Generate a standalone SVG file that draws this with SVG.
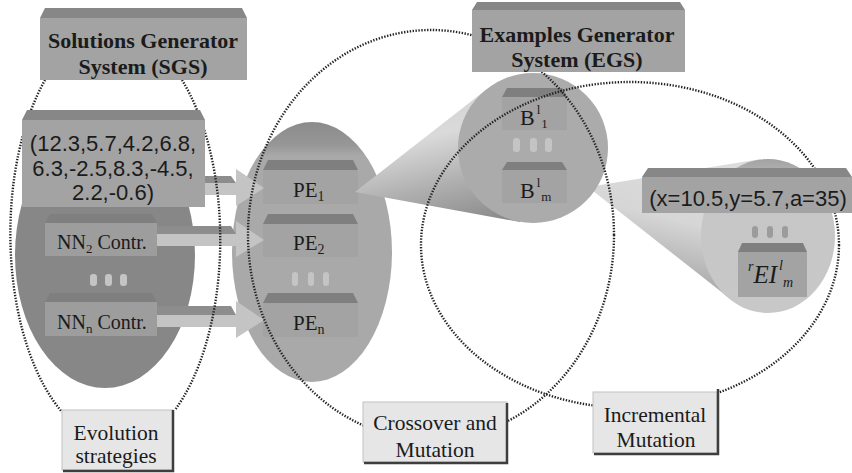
<svg xmlns="http://www.w3.org/2000/svg" width="852" height="473" viewBox="0 0 852 473">
  <defs>
    <style>
      .face { fill: #a3a3a3; }
      .top { fill: #878787; }
      .inner-face { fill: #9d9d9d; }
      .inner-top { fill: #7f7f7f; }
      .serif { font-family: 'Liberation Serif', 'DejaVu Serif', serif; fill: #1b1b1b; }
      .sans { font-family: 'Liberation Sans', 'DejaVu Sans', sans-serif; fill: #1b1b1b; }
      .title { font-size: 22px; font-weight: bold; text-anchor: middle; }
      .vec { font-size: 22px; text-anchor: middle; }
      .lbl { font-size: 21.5px; text-anchor: middle; }
      .cell { font-size: 20px; }
      .grouping { fill: none; stroke: #242424; stroke-width: 2.4; stroke-dasharray: 1.4 1.5; }
      .note { fill: #e6e6e6; stroke: #c2c2c2; stroke-width: 1; }
      .note-shadow { fill: none; stroke: #3e3e3e; stroke-width: 2.5; }
      .ellipsis { fill: #c4c4c4; }
      .ellipsis-dark { fill: #9c9c9c; }
      .arrow-front { fill: #c4c4c4; }
      .arrow-top { fill: #8d8d8d; }
    </style>
    <linearGradient id="peShade" x1="0" y1="0" x2="0" y2="1">
      <stop offset="0" stop-color="#8b8b8b"/>
      <stop offset="0.09" stop-color="#979797"/>
      <stop offset="0.13" stop-color="#a9a9a9"/>
      <stop offset="1" stop-color="#a9a9a9"/>
    </linearGradient>
    <linearGradient id="eiShade" x1="0" y1="0" x2="0" y2="1">
      <stop offset="0" stop-color="#a2a2a2"/>
      <stop offset="0.1" stop-color="#b4b4b4"/>
      <stop offset="0.22" stop-color="#c6c6c6"/>
      <stop offset="1" stop-color="#c8c8c8"/>
    </linearGradient>
    <linearGradient id="cone1Shade" gradientUnits="userSpaceOnUse" x1="433" y1="92" x2="467" y2="228">
      <stop offset="0" stop-color="#d2d2d2"/>
      <stop offset="0.3" stop-color="#dadada"/>
      <stop offset="0.65" stop-color="#b0b0b0"/>
      <stop offset="1" stop-color="#8a8a8a"/>
    </linearGradient>
    <linearGradient id="cone2Shade" gradientUnits="userSpaceOnUse" x1="708" y1="166" x2="672" y2="312">
      <stop offset="0" stop-color="#dcdcdc"/>
      <stop offset="0.4" stop-color="#d6d6d6"/>
      <stop offset="0.8" stop-color="#ababab"/>
      <stop offset="1" stop-color="#979797"/>
    </linearGradient>
  </defs>

  <rect width="852" height="473" fill="#ffffff"/>

  <!-- controller population of the solutions generator -->
  <g id="sgs-population">
    <ellipse cx="105" cy="255" rx="90" ry="133" fill="#878787"/>
    <g id="nn2">
      <polygon class="inner-top" points="50,214 152,214 157,223 45,223"/>
      <rect class="inner-face" x="45" y="223" width="112" height="33"/>
      <text class="serif cell" x="57" y="249">NN<tspan font-size="13" dy="4">2</tspan><tspan dy="-4"> Contr.</tspan></text>
    </g>
    <g id="nn-dots">
      <rect class="ellipsis" x="90" y="274" width="7" height="12" rx="3"/>
      <rect class="ellipsis" x="105" y="274" width="7" height="12" rx="3"/>
      <rect class="ellipsis" x="120" y="274" width="7" height="12" rx="3"/>
    </g>
    <g id="nnn">
      <polygon class="inner-top" points="50,293 152,293 157,302 45,302"/>
      <rect class="inner-face" x="45" y="302" width="112" height="34"/>
      <text class="serif cell" x="57" y="329">NN<tspan font-size="13" dy="4">n</tspan><tspan dy="-4"> Contr.</tspan></text>
    </g>
  </g>

  <!-- population of evaluators -->
  <g id="pe-population">
    <ellipse cx="312" cy="252" rx="80" ry="130" fill="url(#peShade)"/>
    <g id="pe1">
      <polygon class="inner-top" points="268,160 353,160 358,170 263,170"/>
      <rect class="face" x="263" y="170" width="95" height="34"/>
      <text class="serif" font-size="21" x="293" y="197">PE<tspan font-size="14" dy="4">1</tspan></text>
    </g>
    <g id="pe2">
      <polygon class="inner-top" points="268,214 353,214 358,224 263,224"/>
      <rect class="face" x="263" y="224" width="95" height="33"/>
      <text class="serif" font-size="21" x="293" y="250">PE<tspan font-size="14" dy="4">2</tspan></text>
    </g>
    <g id="pe-dots">
      <rect class="ellipsis" x="292" y="272" width="6" height="14" rx="3"/>
      <rect class="ellipsis" x="308" y="272" width="6" height="14" rx="3"/>
      <rect class="ellipsis" x="323" y="272" width="6" height="14" rx="3"/>
    </g>
    <g id="pen">
      <polygon class="inner-top" points="268,293 353,293 358,303 263,303"/>
      <rect class="face" x="263" y="303" width="95" height="34"/>
      <text class="serif" font-size="21" x="293" y="330">PE<tspan font-size="14" dy="4">n</tspan></text>
    </g>
  </g>

  <!-- block arrows and zoom cones -->
  <g id="connectors">
    <g id="arrow-vector-pe1">
      <polygon class="arrow-front" points="205,183 236,183 236,169 264,188 236,206 236,195 205,195"/>
      <polygon class="arrow-top" points="205,176 231,176 236,183 205,183"/>
    </g>
    <g id="arrow-nn2-pe2">
      <polygon class="arrow-front" points="157,234 236,234 236,221 264,240 236,257 236,246 157,246"/>
      <polygon class="arrow-top" points="157,226 231,226 236,234 157,234"/>
    </g>
    <g id="arrow-nnn-pen">
      <polygon class="arrow-front" points="157,315 236,315 236,301 264,320 236,338 236,327 157,327"/>
      <polygon class="arrow-top" points="157,306 231,306 236,315 157,315"/>
    </g>
    <polygon id="cone-pe1-egs" points="355,192 487,89 520,222" fill="url(#cone1Shade)"/>
    <polygon id="cone-egs-ei" points="588,187 761,159 733,301" fill="url(#cone2Shade)"/>
  </g>

  <!-- behaviours inside the examples generator -->
  <g id="egs-population">
    <circle cx="533" cy="148" r="75" fill="#ababab"/>
    <g id="b1">
      <polygon class="inner-top" points="507,88 562,88 567,97 502,97"/>
      <rect class="face" x="502" y="97" width="65" height="33"/>
      <text class="serif" font-size="22" x="520" y="125">B<tspan font-size="13" dx="2" dy="-11">l</tspan><tspan font-size="13" dx="1" dy="14">1</tspan></text>
    </g>
    <g id="b-dots">
      <rect class="ellipsis" x="513" y="138" width="7" height="14" rx="3"/>
      <rect class="ellipsis" x="530" y="138" width="7" height="14" rx="3"/>
      <rect class="ellipsis" x="545" y="138" width="7" height="14" rx="3"/>
    </g>
    <g id="bm">
      <polygon class="inner-top" points="507,162 562,162 567,170 502,170"/>
      <rect class="face" x="502" y="170" width="65" height="33"/>
      <text class="serif" font-size="22" x="520" y="198">B<tspan font-size="13" dx="2" dy="-11">l</tspan><tspan font-size="13" dx="1" dy="14">m</tspan></text>
    </g>
  </g>

  <!-- single example instance -->
  <g id="example-instance">
    <ellipse cx="768" cy="236" rx="67" ry="77" fill="url(#eiShade)"/>
    <g id="ei-dots">
      <rect class="ellipsis-dark" x="752" y="226" width="6" height="12" rx="3"/>
      <rect class="ellipsis-dark" x="767" y="226" width="6" height="12" rx="3"/>
      <rect class="ellipsis-dark" x="782" y="226" width="6" height="12" rx="3"/>
    </g>
    <g id="ei">
      <polygon class="inner-top" points="742,243 803,243 807,252 738,252"/>
      <rect class="face" x="738" y="252" width="69" height="45"/>
      <text class="serif" font-size="25" font-style="italic" x="748" y="283"><tspan font-size="14" dy="-12">r</tspan><tspan dy="12">EI</tspan><tspan font-size="14" dx="2" dy="-13">l</tspan><tspan font-size="14" dy="17">m</tspan></text>
    </g>
  </g>

  <!-- dotted groupings of the three stages -->
  <g id="groupings">
    <path class="grouping" d="M45,80 A105,207 0 0 0 62,412"/>
    <path class="grouping" d="M182,80 A105,207 0 0 1 175,410"/>
    <ellipse class="grouping" cx="431" cy="235" rx="183" ry="205"/>
    <ellipse class="grouping" cx="630" cy="245" rx="209" ry="163"/>
  </g>

  <g id="solution-vector">
    <polygon class="top" points="27,110 200,110 205,120 22,120"/>
    <rect class="face" x="22" y="120" width="183" height="87"/>
    <text class="sans vec" x="113" y="151">(12.3,5.7,4.2,6.8,</text>
    <text class="sans vec" x="113" y="176">6.3,-2.5,8.3,-4.5,</text>
    <text class="sans vec" x="113" y="200">2.2,-0.6)</text>
  </g>

  <g id="example-values">
    <polygon class="top" points="648,168 846,168 852,177 642,177"/>
    <rect class="face" x="642" y="177" width="210" height="36"/>
    <text class="sans" font-size="22" text-anchor="middle" x="748" y="206">(x=10.5,y=5.7,a=35)</text>
  </g>

  <g id="sgs">
    <polygon class="top" points="45,8 242,8 247,18 40,18"/>
    <rect class="face" x="40" y="18" width="207" height="62"/>
    <text class="serif title" x="143" y="48">Solutions Generator</text>
    <text class="serif title" x="143" y="74">System (SGS)</text>
  </g>

  <g id="egs">
    <polygon class="top" points="477,2 680,2 685,10 472,10"/>
    <rect class="face" x="472" y="10" width="213" height="62"/>
    <text class="serif title" x="577" y="42">Examples Generator</text>
    <text class="serif title" x="577" y="67">System (EGS)</text>
  </g>

  <g id="evolution-strategies">
    <rect class="note" x="62" y="410" width="111" height="60"/>
    <polyline class="note-shadow" points="173,410 173,471 63,471"/>
    <text class="serif lbl" x="116" y="440">Evolution</text>
    <text class="serif lbl" x="116" y="463">strategies</text>
  </g>

  <g id="crossover-mutation">
    <rect class="note" x="363" y="402" width="144" height="60"/>
    <polyline class="note-shadow" points="507,403 507,463 364,463"/>
    <text class="serif lbl" x="435" y="430">Crossover and</text>
    <text class="serif lbl" x="435" y="457">Mutation</text>
  </g>

  <g id="incremental-mutation">
    <rect class="note" x="593" y="392" width="124" height="61"/>
    <polyline class="note-shadow" points="718,389 718,454 594,454"/>
    <text class="serif lbl" x="655" y="422">Incremental</text>
    <text class="serif lbl" x="656" y="447">Mutation</text>
  </g>
</svg>
